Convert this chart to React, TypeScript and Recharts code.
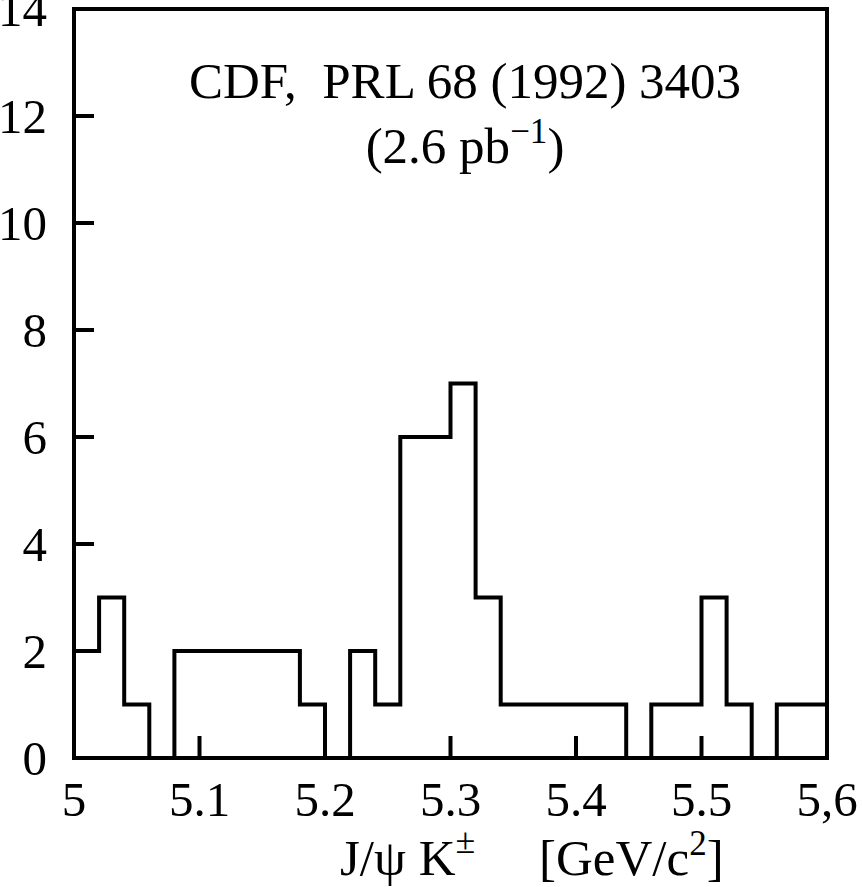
import { ComposedChart, Line, XAxis, YAxis, ReferenceArea } from "recharts";

// lower bin edges (GeV/c^2), bin width 0.02
const binEdges = [
  5.0, 5.02, 5.04, 5.06, 5.08, 5.1, 5.12, 5.14, 5.16, 5.18,
  5.2, 5.22, 5.24, 5.26, 5.28, 5.3, 5.32, 5.34, 5.36, 5.38,
  5.4, 5.42, 5.44, 5.46, 5.48, 5.5, 5.52, 5.54, 5.56, 5.58,
];
const counts = [
  2, 3, 1, 0, 2, 2, 2, 2, 2, 1,
  0, 2, 1, 6, 6, 7, 3, 1, 1, 1,
  1, 1, 0, 1, 1, 3, 1, 0, 1, 1,
];
const upperEdge = 5.6;

const xTicks = [5, 5.1, 5.2, 5.3, 5.4, 5.5, 5.6];
const xTickLabels = ["5", "5.1", "5.2", "5.3", "5.4", "5.5", "5,6"];
const yTicks = [0, 2, 4, 6, 8, 10, 12, 14];

const data = [
  ...binEdges.map((x, i) => ({ x, n: counts[i] })),
  { x: upperEdge, n: counts[counts.length - 1] },
];

const font = "'Liberation Serif', 'Times New Roman', serif";

export default function App() {
  return (
    <div style={{ position: "absolute", left: 0, top: 0, width: 862, height: 887, background: "#fff" }}>
      <ComposedChart
        width={862}
        height={887}
        data={data}
        margin={{ top: 9, right: 35, bottom: 0, left: 0 }}
      >
        <XAxis
          dataKey="x"
          type="number"
          domain={[5, 5.6]}
          ticks={xTicks}
          interval={0}
          allowDataOverflow
          height={129}
          axisLine={false}
          tickSize={-22}
          tickMargin={45}
          tickLine={{ stroke: "#000", strokeWidth: 4 }}
          tickFormatter={(v) => xTickLabels[xTicks.findIndex((t) => Math.abs(t - v) < 1e-6)] ?? String(v)}
          tick={{ fill: "#000", fontSize: 49, fontFamily: font }}
        />
        <YAxis
          type="number"
          domain={[0, 14]}
          ticks={yTicks}
          interval={0}
          width={74}
          axisLine={false}
          tickSize={-20}
          tickMargin={47}
          tickLine={{ stroke: "#000", strokeWidth: 4 }}
          tick={{ fill: "#000", fontSize: 49, fontFamily: font }}
        />
        <ReferenceArea
          x1={5}
          x2={5.6}
          y1={0}
          y2={14}
          fill="none"
          stroke="#000"
          strokeWidth={4}
          ifOverflow="visible"
        />
        <Line
          type="stepAfter"
          dataKey="n"
          stroke="#000"
          strokeWidth={4}
          dot={false}
          activeDot={false}
          isAnimationActive={false}
        />
        <text x={465} y={98} textAnchor="middle" fontSize={51} fontFamily={font} fill="#000" style={{ whiteSpace: "pre" }}>
          CDF,  PRL 68 (1992) 3403
        </text>
        <text x={465} y={163} textAnchor="middle" fontSize={51} fontFamily={font} fill="#000">
          (2.6 pb
          <tspan fontSize={35} dy={-20}>−1</tspan>
          <tspan dy={20}>)</tspan>
        </text>
        <text x={340} y={875} fontSize={51} fontFamily={font} fill="#000" style={{ whiteSpace: "pre" }}>
          J/ψ K
          <tspan fontSize={36} dy={-22}>±</tspan>
          <tspan dy={22}>{"     [GeV/c"}</tspan>
          <tspan fontSize={35} dy={-20}>2</tspan>
          <tspan dy={20}>]</tspan>
        </text>
      </ComposedChart>
    </div>
  );
}
